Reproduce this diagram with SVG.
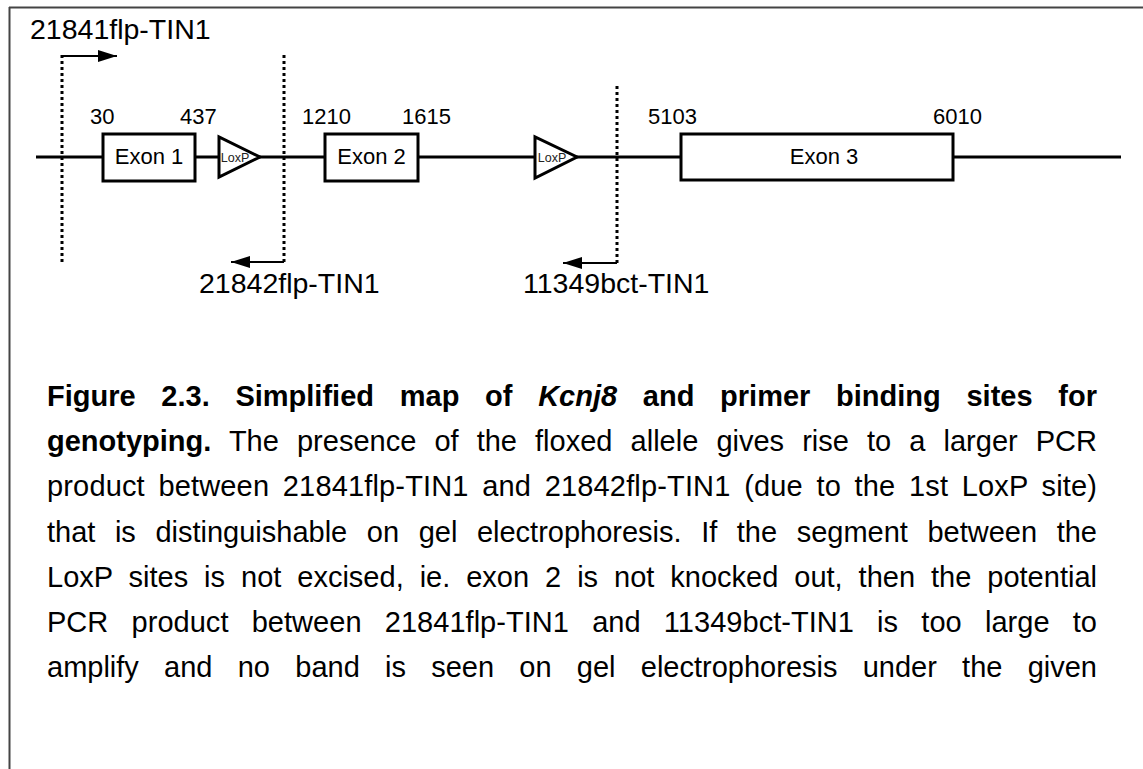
<svg xmlns="http://www.w3.org/2000/svg" width="1143" height="769" viewBox="0 0 1143 769">
<defs>
<style>
.frame{stroke:#444;stroke-width:2;fill:none}
.gene{stroke:#000;stroke-width:3;fill:none}
.box{stroke:#000;stroke-width:3;fill:#fff}
.tri{stroke:#000;stroke-width:3;fill:#fff;stroke-linejoin:miter}
.dot{stroke:#000;stroke-width:3;stroke-dasharray:3 3;fill:none}
.arr{stroke:#000;stroke-width:2;fill:none}
.num{font-family:"Liberation Sans",Arial,sans-serif;font-size:22px;fill:#000}
.ex{font-family:"Liberation Sans",Arial,sans-serif;font-size:22px;fill:#000;text-anchor:middle}
.lox{font-family:"Liberation Sans",Arial,sans-serif;font-size:12.5px;fill:#222;text-anchor:middle}
.prim{font-family:"Liberation Sans",Arial,sans-serif;font-size:28.5px;fill:#000}
.cap{font-family:"Liberation Sans",Arial,sans-serif;font-size:29px;fill:#000}
.b{font-weight:bold}
.bi{font-weight:bold;font-style:italic}
</style>
<marker id="ah" viewBox="0 0 19 12" refX="19" refY="6" markerWidth="19" markerHeight="12" markerUnits="userSpaceOnUse" orient="auto">
<path d="M0,0 L19,6 L0,12 Z" fill="#000"/>
</marker>
</defs>
<rect width="1143" height="769" fill="#fff"/>
<g id="frame">
<line class="frame" x1="9" y1="7.5" x2="1143" y2="7.5"/>
<line class="frame" x1="9.5" y1="7" x2="9.5" y2="769"/>
</g>
<g id="connectors">
<line class="gene" x1="36" y1="157" x2="1121" y2="157"/>
<line class="dot" x1="62" y1="55" x2="62" y2="262"/>
<line class="dot" x1="284" y1="55" x2="284" y2="262"/>
<line class="dot" x1="617" y1="86" x2="617" y2="263"/>
<polyline class="arr" points="62,56 117,56" marker-end="url(#ah)"/>
<polyline class="arr" points="284,262 231,262" marker-end="url(#ah)"/>
<polyline class="arr" points="617,263 563,263" marker-end="url(#ah)"/>
</g>
<g id="exon1">
<rect class="box" x="103" y="134" width="92" height="47"/>
<text class="ex" x="149" y="164">Exon 1</text>
<text class="num" x="90" y="124">30</text>
<text class="num" x="180" y="124">437</text>
</g>
<g id="loxp1">
<polygon class="tri" points="219,137 219,177 260,157"/>
<text class="lox" x="235" y="161.5">LoxP</text>
</g>
<g id="exon2">
<rect class="box" x="325" y="134" width="93" height="47"/>
<text class="ex" x="371.5" y="164">Exon 2</text>
<text class="num" x="302" y="124">1210</text>
<text class="num" x="402" y="124">1615</text>
</g>
<g id="loxp2">
<polygon class="tri" points="535,137 535,178 577,157"/>
<text class="lox" x="552" y="161.5">LoxP</text>
</g>
<g id="exon3">
<rect class="box" x="681" y="134" width="272" height="46"/>
<text class="ex" x="824" y="164">Exon 3</text>
<text class="num" x="648" y="124">5103</text>
<text class="num" x="933" y="124">6010</text>
</g>
<g id="primer1">
<text class="prim" x="30" y="39">21841flp-TIN1</text>
</g>
<g id="primer2">
<text class="prim" x="199" y="293">21842flp-TIN1</text>
</g>
<g id="primer3">
<text class="prim" x="523" y="293">11349bct-TIN1</text>
</g>
<g id="caption">
<text class="cap" x="47" y="406" word-spacing="17.65" textLength="1050" lengthAdjust="spacing"><tspan class="b">Figure 2.3. Simplified map of </tspan><tspan class="bi">Kcnj8</tspan><tspan class="b"> and primer binding sites for</tspan></text>
<text class="cap" x="47" y="451" word-spacing="10.01" textLength="1050" lengthAdjust="spacing"><tspan class="b">genotyping.</tspan> The presence of the floxed allele gives rise to a larger PCR</text>
<text class="cap" x="47" y="496" word-spacing="5.43" textLength="1050" lengthAdjust="spacing">product between 21841flp-TIN1 and 21842flp-TIN1 (due to the 1st LoxP site)</text>
<text class="cap" x="47" y="542" word-spacing="11.51" textLength="1050" lengthAdjust="spacing">that is distinguishable on gel electrophoresis. If the segment between the</text>
<text class="cap" x="47" y="587" word-spacing="7.87" textLength="1050" lengthAdjust="spacing">LoxP sites is not excised, ie. exon 2 is not knocked out, then the potential</text>
<text class="cap" x="47" y="632" word-spacing="15.12" textLength="1050" lengthAdjust="spacing">PCR product between 21841flp-TIN1 and 11349bct-TIN1 is too large to</text>
<text class="cap" x="47" y="677" word-spacing="17.2" textLength="1050" lengthAdjust="spacing">amplify and no band is seen on gel electrophoresis under the given</text>
</g>
</svg>
